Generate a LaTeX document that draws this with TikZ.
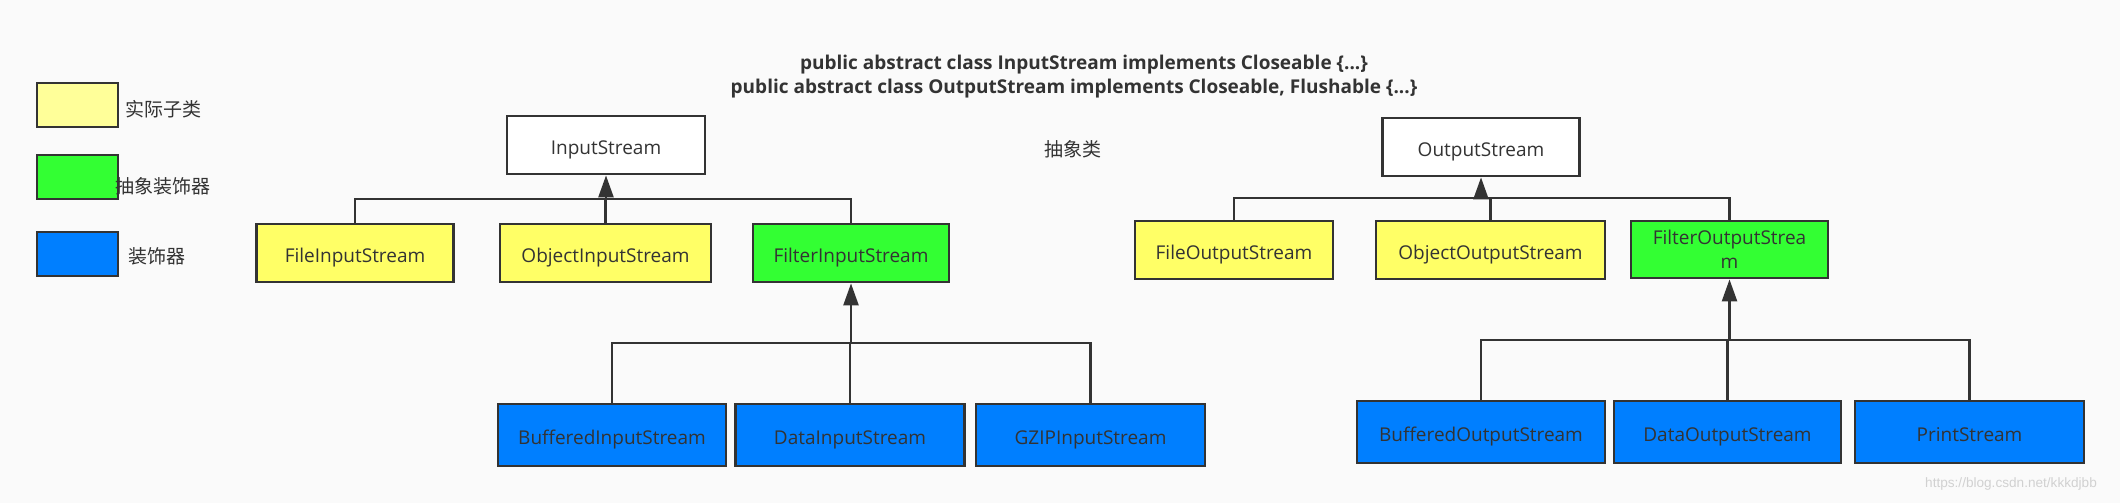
\documentclass[tikz,border=0pt]{standalone}
\usepackage{fontspec}
\setmainfont{Open Sans}
\newfontfamily\cjk{Noto Sans CJK SC}
\newfontfamily\wmfont{Liberation Sans}
\usetikzlibrary{arrows.meta}
\definecolor{bgcol}{HTML}{FAFAFA}
\definecolor{edgecol}{HTML}{333333}
\definecolor{realcol}{HTML}{FFFF66}
\definecolor{legrealcol}{HTML}{FFFF99}
\definecolor{abscol}{HTML}{33FF33}
\definecolor{deccol}{HTML}{007FFF}
\tikzset{
  clsbox/.style={draw=edgecol, line width=1.4pt, text=edgecol, font=\fontsize{9.5}{11.5}\selectfont, minimum height=29pt, inner sep=0pt, text height=9pt, text depth=0pt, align=center},
  rootbox/.style={clsbox, fill=white},
  realbox/.style={clsbox, fill=realcol},
  absbox/.style={clsbox, fill=abscol},
  decbox/.style={clsbox, fill=deccol, minimum height=31pt},
  legbox/.style={draw=edgecol, line width=1.4pt, minimum width=40.5pt, minimum height=22pt, inner sep=0pt},
  legtext/.style={anchor=west, text=edgecol, font=\cjk\fontsize{9.5}{11.5}\selectfont, inner sep=0pt},
  titletext/.style={text=edgecol, font=\bfseries\fontsize{9.5}{12}\selectfont},
  link/.style={draw=edgecol, line width=1.2pt},
  inherit/.style={link, -{Triangle[length=11pt,width=7.5pt]}},
}

\begin{document}
\begin{tikzpicture}[x=0.5pt,y=-0.5pt]
\fill[bgcol] (0,0) rectangle (2120,503);
\useasboundingbox (0,0) rectangle (2120,503);

\node[legbox, fill=legrealcol] (lreal) at (77.5,105) {};
\node[legbox, fill=abscol] (labs) at (77.5,177) {};
\node[legbox, fill=deccol] (ldec) at (77.5,254) {};
\node[legtext] (treal) at (125,109) {实际子类};
\node[legtext] (tabs) at (115,186) {抽象装饰器};
\node[legtext] (tdec) at (128,256) {装饰器};

\node[titletext] (title1) at (1084,65) {public abstract class InputStream implements Closeable \{...\}};
\node[titletext] (title2) at (1074,89) {public abstract class OutputStream implements Closeable, Flushable \{...\}};
\node[text=edgecol, font=\cjk\fontsize{9.5}{11.5}\selectfont] (abstxt) at (1073,149) {抽象类};

\node[rootbox, minimum width=99pt] (is) at (606,145) {InputStream};
\node[realbox, minimum width=98.5pt] (fis) at (355,253) {FileInputStream};
\node[realbox, minimum width=105.5pt] (ois) at (605.5,253) {ObjectInputStream};
\node[absbox, minimum width=98pt] (filis) at (851,253) {FilterInputStream};
\node[decbox, minimum width=114pt] (bis) at (612,435) {BufferedInputStream};
\node[decbox, minimum width=114.5pt] (dis) at (850,435) {DataInputStream};
\node[decbox, minimum width=114.5pt] (gis) at (1090.5,435) {GZIPInputStream};

\node[rootbox, minimum width=98.5pt] (os) at (1481,147) {OutputStream};
\node[realbox, minimum width=99pt] (fos) at (1234,250) {FileOutputStream};
\node[realbox, minimum width=114.5pt] (oos) at (1490.5,250) {ObjectOutputStream};
\node[absbox, minimum width=98.5pt, minimum height=28.5pt, text height={}, text depth={}, font=\fontsize{9.5}{12}\selectfont] (filos) at (1729.5,249.5) {FilterOutputStrea\\m};
\node[decbox, minimum width=124pt] (bos) at (1481,432) {BufferedOutputStream};
\node[decbox, minimum width=113.5pt] (dos) at (1727.5,432) {DataOutputStream};
\node[decbox, minimum width=114.5pt] (ps) at (1969.5,432) {PrintStream};

\coordinate (ibus) at (606,199);
\draw[link] (fis.north) |- (ibus) -| (filis.north);
\draw[link] (ois.north) -- (ois.north |- ibus);
\draw[inherit] (ibus) -- (is.south);

\coordinate (fibus) at (851,343);
\draw[link] (bis.north) |- (fibus) -| (gis.north);
\draw[link] (dis.north) -- (dis.north |- fibus);
\draw[inherit] (fibus) -- (filis.south);

\coordinate (obus) at (1481,198);
\draw[link] (fos.north) |- (obus) -| (filos.north);
\draw[link] (oos.north) -- (oos.north |- obus);
\draw[inherit] (obus) -- (os.south);

\coordinate (fobus) at (1729.5,340);
\draw[link] (bos.north) |- (fobus) -| (ps.north);
\draw[link] (dos.north) -- (dos.north |- fobus);
\draw[inherit] (fobus) -- (filos.south);

\node[text=black!18, font=\wmfont\fontsize{6.8}{8}\selectfont] (wmark) at (2011,484) {https://blog.csdn.net/kkkdjbb};
\end{tikzpicture}
\end{document}
